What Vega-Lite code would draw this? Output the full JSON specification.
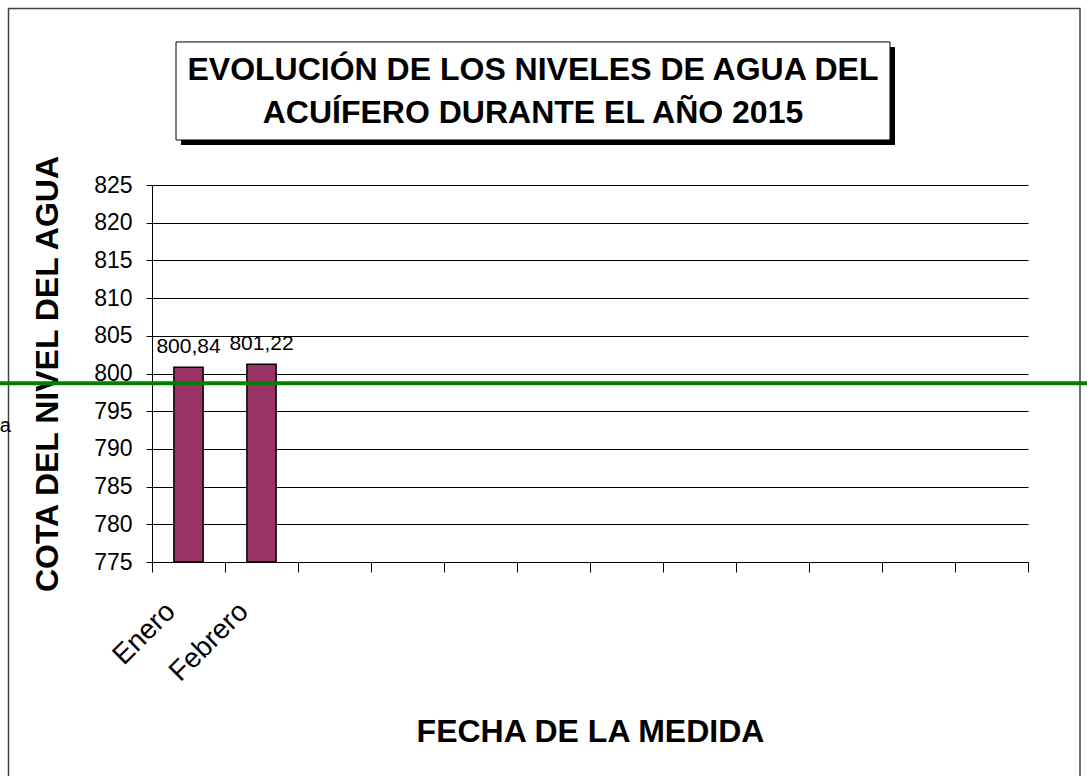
{
  "$schema": "https://vega.github.io/schema/vega-lite/v6.json",
  "autosize": {"type": "none"},
  "padding": {"left": 152, "top": 185, "right": 59, "bottom": 214},
  "width": 876,
  "height": 377,
  "background": "white",
  "config": {
    "font": "Liberation Sans",
    "view": {"stroke": null},
    "locale": {"number": {"decimal": ",", "thousands": ".", "grouping": [3], "currency": ["", " €"]}}
  },
  "resolve": {"scale": {"x": "independent", "y": "independent"}},
  "layer": [
    {
      "data": {
        "values": [
          {"mes": "Enero", "cota": 800.84},
          {"mes": "Febrero", "cota": 801.22},
          {"mes": "Marzo", "cota": null},
          {"mes": "Abril", "cota": null},
          {"mes": "Mayo", "cota": null},
          {"mes": "Junio", "cota": null},
          {"mes": "Julio", "cota": null},
          {"mes": "Agosto", "cota": null},
          {"mes": "Septiembre", "cota": null},
          {"mes": "Octubre", "cota": null},
          {"mes": "Noviembre", "cota": null},
          {"mes": "Diciembre", "cota": null}
        ]
      },
      "encoding": {
        "x": {
          "field": "mes",
          "type": "nominal",
          "sort": null,
          "scale": {
            "domain": ["Enero", "Febrero", "Marzo", "Abril", "Mayo", "Junio", "Julio", "Agosto", "Septiembre", "Octubre", "Noviembre", "Diciembre"],
            "paddingInner": 0,
            "paddingOuter": 0
          },
          "axis": {
            "title": "FECHA DE LA MEDIDA",
            "titleFontSize": 32,
            "titleFontWeight": "bold",
            "titleColor": "black",
            "titlePadding": 30,
            "labelExpr": "datum.value == 'Enero' || datum.value == 'Febrero' ? datum.label : ''",
            "labelAngle": -45,
            "labelAlign": "right",
            "labelBaseline": "middle",
            "labelFontSize": 28,
            "labelColor": "black",
            "labelPadding": 35,
            "labelOffset": -18,
            "labelOverlap": false,
            "tickBand": "extent",
            "tickSize": 10,
            "tickColor": "black",
            "domainColor": "black",
            "grid": false
          }
        },
        "y": {
          "field": "cota",
          "type": "quantitative",
          "scale": {"domain": [775, 825], "nice": false, "zero": false},
          "axis": {
            "title": "COTA DEL NIVEL DEL AGUA",
            "titleFontSize": 32,
            "titleFontWeight": "bold",
            "titleColor": "black",
            "titlePadding": 29,
            "values": [775, 780, 785, 790, 795, 800, 805, 810, 815, 820, 825],
            "labelFontSize": 23,
            "labelColor": "black",
            "labelPadding": 14,
            "labelOverlap": false,
            "tickSize": 6,
            "tickColor": "black",
            "domainColor": "black",
            "grid": true,
            "gridColor": "black",
            "gridOpacity": 1,
            "gridWidth": 1
          }
        }
      },
      "layer": [
        {
          "mark": {"type": "bar", "color": "#993366", "stroke": "black", "strokeWidth": 1.5, "width": {"band": 0.4}},
          "encoding": {"y2": {"datum": 775}}
        },
        {
          "mark": {"type": "text", "fontSize": 21, "baseline": "alphabetic", "dy": -14, "color": "black"},
          "encoding": {
            "text": {"field": "cota", "type": "quantitative", "format": ".2f"}
          }
        }
      ]
    },
    {
      "data": {"values": [{}]},
      "mark": {"type": "rect", "filled": false, "stroke": "#404040", "strokeWidth": 1.5},
      "encoding": {
        "x": {"datum": -0.16381, "type": "quantitative", "scale": {"domain": [0, 1]}, "axis": null},
        "x2": {"datum": 1.05936},
        "y": {"datum": 848.41, "type": "quantitative", "scale": {"domain": [775, 825], "nice": false, "zero": false}, "axis": null},
        "y2": {"datum": 746.09}
      }
    },
    {
      "data": {"values": [{}]},
      "mark": {"type": "rect", "fill": "black"},
      "encoding": {
        "x": {"datum": 0.03311, "type": "quantitative", "scale": {"domain": [0, 1]}, "axis": null},
        "x2": {"datum": 0.84817},
        "y": {"datum": 843.30, "type": "quantitative", "scale": {"domain": [775, 825], "nice": false, "zero": false}, "axis": null},
        "y2": {"datum": 830.31}
      }
    },
    {
      "data": {"values": [{}]},
      "mark": {"type": "rect", "fill": "white", "stroke": "black", "strokeWidth": 1},
      "encoding": {
        "x": {"datum": 0.0274, "type": "quantitative", "scale": {"domain": [0, 1]}, "axis": null},
        "x2": {"datum": 0.84247},
        "y": {"datum": 843.97, "type": "quantitative", "scale": {"domain": [775, 825], "nice": false, "zero": false}, "axis": null},
        "y2": {"datum": 830.97}
      }
    },
    {
      "data": {"values": [{}]},
      "mark": {"type": "text", "fontSize": 32, "fontWeight": "bold", "align": "center", "baseline": "middle", "lineHeight": 43, "color": "black"},
      "encoding": {
        "x": {"datum": 0.43493, "type": "quantitative", "scale": {"domain": [0, 1]}, "axis": null},
        "y": {"datum": 840.25, "type": "quantitative", "scale": {"domain": [775, 825], "nice": false, "zero": false}, "axis": null},
        "text": {"value": ["EVOLUCIÓN DE LOS NIVELES DE AGUA DEL", "ACUÍFERO DURANTE EL AÑO 2015"]}
      }
    },
    {
      "data": {"values": [{}]},
      "mark": {"type": "text", "fontSize": 20, "align": "right", "baseline": "alphabetic", "color": "black"},
      "encoding": {
        "x": {"datum": -0.16096, "type": "quantitative", "scale": {"domain": [0, 1]}, "axis": null},
        "y": {"datum": 792.24, "type": "quantitative", "scale": {"domain": [775, 825], "nice": false, "zero": false}, "axis": null},
        "text": {"value": "a"}
      }
    },
    {
      "data": {"values": [{}]},
      "mark": {"type": "rule", "color": "#008000", "strokeWidth": 4},
      "encoding": {
        "x": {"datum": -0.17352, "type": "quantitative", "scale": {"domain": [0, 1]}, "axis": null},
        "x2": {"datum": 1.06735},
        "y": {"datum": 798.70, "type": "quantitative", "scale": {"domain": [775, 825], "nice": false, "zero": false}, "axis": null}
      }
    }
  ]
}
